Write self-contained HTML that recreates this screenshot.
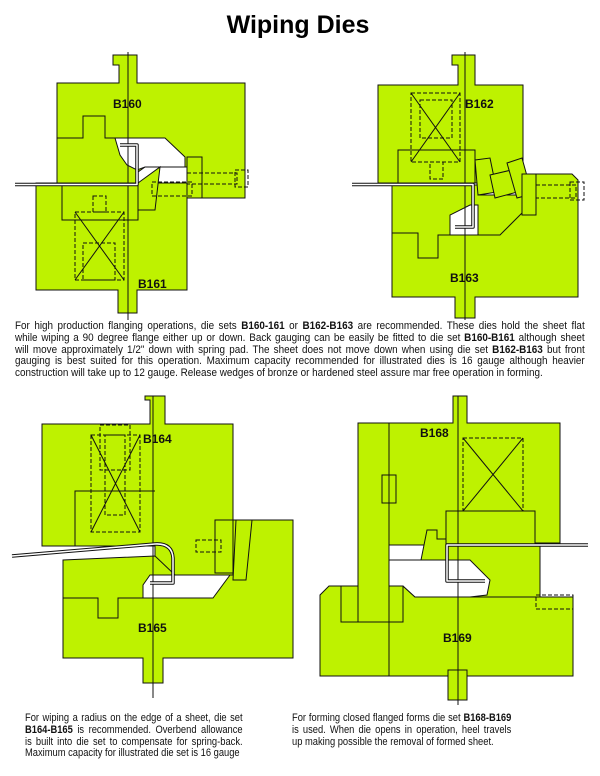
<!DOCTYPE html>
<html><head><meta charset="utf-8"><style>
body{margin:0;background:#fff;width:600px;height:776px;overflow:hidden;position:relative;font-family:"Liberation Sans",Arial,sans-serif}
.p{position:absolute;font-size:11px;line-height:11.8px;color:#111;transform:scaleX(0.9);transform-origin:0 0}
.p.s{transform:scaleX(0.85)}
.p div{text-align:justify;text-align-last:justify;white-space:nowrap}
.p div.l{text-align-last:left}
svg{position:absolute;left:0;top:0}
</style></head><body>
<svg width="600" height="776" viewBox="0 0 600 776" font-family="Liberation Sans, sans-serif">
<text x="298" y="33" text-anchor="middle" font-size="25" font-weight="bold">Wiping Dies</text>
<g fill="#bef200" stroke="#111" stroke-width="1">
<polygon points="113,55 137,55 137,83 245,83 245,198 187,198 187,167 145,167 138,172 138,183 57,183 57,83 119,83 119,65 113,65"/>
<polyline fill="none" points="57,138 83,138 83,116 105,116 105,138 115,138"/>
<polygon fill="#fff" points="115,138 165,138 185,157 185,167 145,167 137,170 127,165 120,155"/>
<rect x="187" y="157" width="15" height="41"/>
<polygon points="36,183 187,183 187,290 137,290 137,313 118,313 118,290 36,290"/>
<polyline fill="none" points="62,183 62,220 138,220 138,183"/>
<polygon points="138,183 160,167 155,210 138,210"/>
<g fill="none" stroke-dasharray="4,2"><rect x="75" y="212" width="49" height="68"/><rect x="83" y="243" width="32" height="37"/><rect x="93" y="196" width="13" height="16"/><rect x="152" y="182" width="40" height="14"/><rect x="187" y="173" width="50" height="11"/><rect x="235" y="170" width="13" height="17"/></g>
<line x1="75" y1="212" x2="124" y2="280"/><line x1="124" y1="212" x2="75" y2="280"/>
<polygon points="452,55 475,55 475,85 523,85 523,183 378,183 378,85 458,85 458,65 452,65"/>
<rect x="398" y="150" width="77" height="33"/>
<polygon points="392,185 478,185 478,195 522,195 522,174 572,174 578,180 578,297 475,297 475,318 455,318 455,297 392,297"/>
<polyline fill="none" points="392,233 418,233 418,258 438,258 438,235 500,235 522,213"/>
<polygon fill="#fff" points="450,235 450,215 470,205 478,205 478,235"/>
<polygon points="475,160 490,158 497,192 478,195"/>
<polygon points="490,175 520,168 525,190 495,198"/>
<polygon points="507,163 522,158 532,194 517,198"/>
<rect x="522" y="174" width="14" height="41"/>
<g fill="none" stroke-dasharray="4,2"><rect x="411" y="93" width="49" height="69"/><rect x="420" y="100" width="32" height="38"/><rect x="430" y="162" width="13" height="17"/><rect x="536" y="185" width="40" height="13"/><rect x="570" y="182" width="14" height="18"/></g>
<line x1="411" y1="93" x2="460" y2="162"/><line x1="460" y1="93" x2="411" y2="162"/>
<polygon points="145,396 165,396 165,424 233,424 233,575 155,575 155,546 42,546 42,424 150,424 150,400 145,400"/>
<polyline fill="none" points="75,546 75,491 155,491"/>
<rect x="215" y="520" width="18" height="53"/>
<polygon points="63,560 155,556 175,575 233,575 233,520 293,520 293,658 163,658 163,683 143,683 143,658 63,658"/>
<polygon points="236,520 252,520 246,580 233,580"/>
<polygon fill="#fff" points="150,575 230,575 213,598 143,598 143,585"/>
<polyline fill="none" points="63,598 98,598 98,618 118,618 118,598 143,598"/>
<g fill="none" stroke-dasharray="4,2"><rect x="91" y="435" width="49" height="97"/><rect x="100" y="425" width="30" height="45"/><rect x="105" y="435" width="20" height="80"/><rect x="196" y="540" width="25" height="12"/></g>
<line x1="91" y1="435" x2="140" y2="532"/><line x1="140" y1="435" x2="91" y2="532"/>
<polygon points="453,396 467,396 467,423 560,423 560,543 446,543 446,545 389,545 389,622 358,622 358,423 453,423"/>
<rect x="382" y="475" width="14" height="28"/>
<rect x="446" y="511" width="89" height="34"/>
<polygon points="446,545 540,545 540,615 446,615"/>
<polygon points="329,586 341,586 358,590 358,622 389,622 389,586 403,586 415,597 573,597 573,676 320,676 320,595"/>
<polygon fill="#fff" points="389,560 470,560 490,580 487,595 470,597 415,597 403,586 389,586"/>
<polygon points="427,530 437,530 437,539 446,539 446,560 421,560"/>
<rect x="341" y="586" width="17" height="36"/>
<rect x="389" y="586" width="14" height="36"/>
<rect x="448" y="670" width="19" height="30"/>
<g fill="none" stroke-dasharray="4,2"><rect x="463" y="438" width="60" height="73"/><rect x="536" y="595" width="37" height="14"/></g>
<line x1="463" y1="438" x2="523" y2="511"/><line x1="523" y1="438" x2="463" y2="511"/>
</g>
<g fill="none" stroke="#111" stroke-width="1">
<line x1="128" y1="52" x2="128" y2="320"/><line x1="465" y1="52" x2="465" y2="320"/>
<line x1="153" y1="396" x2="153" y2="698"/><line x1="458" y1="396" x2="458" y2="705"/>
<line x1="389" y1="423" x2="389" y2="676"/>
</g>
<g fill="none" stroke="#111" stroke-width="3.5" stroke-linejoin="round"><polyline points="15,184.5 137,184.5 137,145 120,145"/><polyline points="352,184.5 473,184.5 473,227 455,227"/><path d="M12,556 L155,544 Q172,543 173,558 L173,583 L150,583"/><polyline points="588,545 447,545 447,581 485,581"/></g>
<g fill="none" stroke="#fff" stroke-width="1.5" stroke-linejoin="round"><polyline points="15,184.5 137,184.5 137,145 120,145"/><polyline points="352,184.5 473,184.5 473,227 455,227"/><path d="M12,556 L155,544 Q172,543 173,558 L173,583 L150,583"/><polyline points="588,545 447,545 447,581 485,581"/></g>
<g font-size="12" font-weight="bold" fill="#111"><text x="113" y="108">B160</text><text x="138" y="288">B161</text><text x="465" y="108">B162</text><text x="450" y="282">B163</text><text x="143" y="443">B164</text><text x="138" y="632">B165</text><text x="420" y="437">B168</text><text x="443" y="642">B169</text></g>
</svg>
<div class="p" style="left:15px;top:321px;width:633px">
<div>For high production flanging operations, die sets <b>B160-161</b> or <b>B162-B163</b> are recommended. These dies hold the sheet flat</div>
<div>while wiping a 90 degree flange either up or down. Back gauging can be easily be fitted to die set <b>B160-B161</b> although sheet</div>
<div>will move approximately 1/2" down with spring pad. The sheet does not move down when using die set <b>B162-B163</b> but front</div>
<div>gauging is best suited for this operation. Maximum capacity recommended for illustrated dies is 16 gauge although heavier</div>
<div class="l">construction will take up to 12 gauge. Release wedges of bronze or hardened steel assure mar free operation in forming.</div>
</div>
<div class="p s" style="left:25px;top:713px;width:256px">
<div>For wiping a radius on the edge of a sheet, die set</div>
<div><b>B164-B165</b> is recommended. Overbend allowance</div>
<div>is built into die set to compensate for spring-back.</div>
<div class="l">Maximum capacity for illustrated die set is 16 gauge</div>
</div>
<div class="p s" style="left:292px;top:713px;width:258px">
<div>For forming closed flanged forms die set <b>B168-B169</b></div>
<div>is used. When die opens in operation, heel travels</div>
<div class="l">up making possible the removal of formed sheet.</div>
</div>
</body></html>
